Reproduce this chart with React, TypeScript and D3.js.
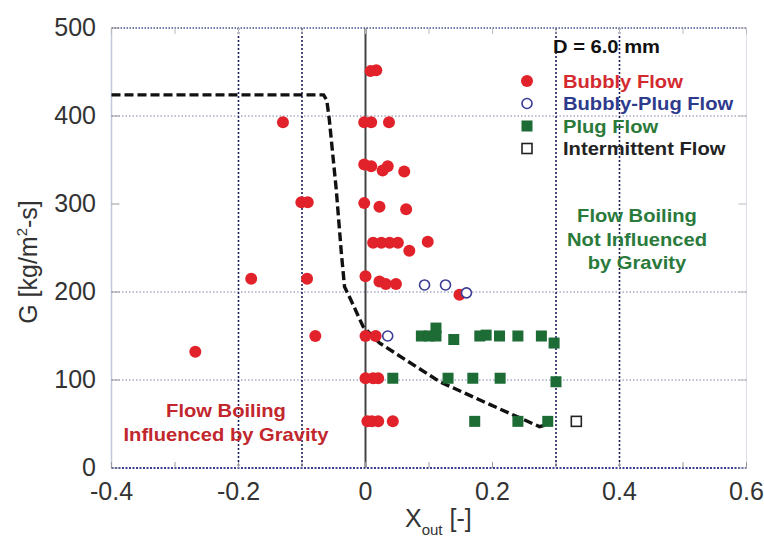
import React from 'react';
import * as d3 from 'd3';

const W = 764;
const H = 537;

// Axis ticks
const xTickLabels = [-0.4, -0.2, 0, 0.2, 0.4, 0.6];
const xMinorTicks = [-0.3, -0.1, 0.1, 0.3, 0.5];
const yTickLabels = [0, 100, 200, 300, 400, 500];
const xGridLines = [-0.2, -0.1, 0.3, 0.4];
const yGridLines = [100, 200, 400];

// Observed flow patterns: [X_out, G]
const bubbly: [number, number][] = [
  [0.008, 451], [0.017, 452],
  [-0.13, 393], [-0.002, 393], [0.009, 393], [0.037, 393],
  [-0.002, 345], [0.009, 343], [0.027, 338], [0.035, 343], [0.061, 337],
  [-0.101, 302], [-0.091, 302], [-0.002, 301], [0.022, 297], [0.064, 294],
  [0.012, 256], [0.025, 256], [0.038, 256], [0.051, 256], [0.069, 247], [0.098, 257],
  [-0.18, 215], [-0.092, 215], [0.0, 218], [0.022, 212], [0.032, 209], [0.048, 209], [0.148, 197],
  [-0.268, 132], [-0.079, 150], [0.0, 150], [0.016, 150],
  [0.0, 102], [0.012, 102], [0.02, 102],
  [0.003, 53], [0.01, 53], [0.02, 53], [0.043, 53],
];
const bubblyPlug: [number, number][] = [
  [0.035, 150], [0.093, 208], [0.126, 208], [0.159, 199],
];
const plug: [number, number][] = [
  [0.088, 150], [0.1, 150], [0.111, 159], [0.111, 150], [0.139, 146],
  [0.18, 150], [0.19, 151], [0.211, 150], [0.24, 150], [0.277, 150], [0.297, 142],
  [0.043, 102], [0.13, 102], [0.169, 102], [0.212, 102], [0.3, 98],
  [0.172, 53], [0.24, 53], [0.287, 53],
];
const intermittent: [number, number][] = [[0.332, 53]];

// Transition boundary between gravity-influenced and gravity-independent boiling
const boundary: [number, number][] = [
  [-0.4, 424], [-0.066, 424], [-0.061, 418], [-0.057, 396], [-0.046, 316],
  [-0.038, 244], [-0.033, 206], [-0.023, 191], [-0.004, 161], [0.022, 142],
  [0.117, 98], [0.19, 74], [0.274, 47], [0.284, 49],
];

const legendItems = [
  { label: 'Bubbly Flow', color: '#d42a2f', kind: 'filledCircle' },
  { label: 'Bubbly-Plug Flow', color: '#2e3a8c', kind: 'openCircle' },
  { label: 'Plug Flow', color: '#2c7a3a', kind: 'filledSquare' },
  { label: 'Intermittent Flow', color: '#222222', kind: 'openSquare' },
];

const FONT = '"Liberation Sans", Arial, Helvetica, sans-serif';
const RED = '#e2222a';
const BLUE = '#3a3c95';
const GREEN = '#1d6b35';

function Marker({ kind, cx, cy, color }: { kind: string; cx: number; cy: number; color: string }) {
  if (kind === 'filledCircle') return <circle cx={cx} cy={cy} r={6} fill={color} />;
  if (kind === 'openCircle')
    return <circle cx={cx} cy={cy} r={5} fill="white" stroke={color} strokeWidth={1.6} />;
  if (kind === 'filledSquare')
    return <rect x={cx - 5.5} y={cy - 5.5} width={11} height={11} fill={color} />;
  return <rect x={cx - 5} y={cy - 5} width={10} height={10} fill="white" stroke={color} strokeWidth={1.6} />;
}

function BoldText({ x, y, children, fill, size = 18, anchor = 'start' }: any) {
  return (
    <text
      transform={`translate(${x},${y}) scale(1.12,1)`}
      fontFamily={FONT}
      fontWeight="bold"
      fontSize={size}
      fill={fill}
      textAnchor={anchor}
    >
      {children}
    </text>
  );
}

const fmtTick = (v: number) => String(v);

export default function App() {
  const x = d3.scaleLinear().domain([-0.4, 0.6]).range([111.5, 746.5]);
  const y = d3.scaleLinear().domain([0, 500]).range([468, 28]);
  const line = d3
    .line<[number, number]>()
    .x((d) => x(d[0]))
    .y((d) => y(d[1]));

  const [x0, x1] = x.range();
  const [y0, y1] = y.range();

  return (
    <svg
      width={W}
      height={H}
      style={{ position: 'absolute', left: 0, top: 0, background: 'white' }}
    >
      {/* frame */}
      <line x1={x0} x2={x0} y1={y1} y2={y0} stroke="#c3c7dc" strokeWidth={1.5} />
      <line x1={x1} x2={x1} y1={y1} y2={y0} stroke="#dcdfea" strokeWidth={1} />
      <line x1={x0} x2={x1} y1={y1} y2={y1} stroke="#4a4f8f" strokeWidth={1.4} strokeDasharray="1.5,1.5" />
      <line x1={x0} x2={x1} y1={y0} y2={y0} stroke="#3a3f8f" strokeWidth={2} strokeDasharray="2,1.5" />

      {/* grid */}
      {yGridLines.map((g) => (
        <line key={'hg' + g} x1={x0} x2={x1} y1={y(g)} y2={y(g)} stroke="#7d80a8" strokeWidth={1} strokeDasharray="1.5,2" />
      ))}
      {xGridLines.map((v) => (
        <line key={'vg' + v} x1={x(v)} x2={x(v)} y1={y1} y2={y0} stroke="#1d1f5c" strokeWidth={1.6} strokeDasharray="2,2" />
      ))}
      <line x1={x(0)} x2={x(0)} y1={y1} y2={y0} stroke="#444" strokeWidth={2} />

      {/* ticks */}
      {[...xTickLabels, ...xMinorTicks].map((v) => (
        <g key={'xt' + v}>
          <line x1={x(v)} x2={x(v)} y1={y0} y2={y0 - 6} stroke="#999" strokeWidth={1} />
          <line x1={x(v)} x2={x(v)} y1={y1} y2={y1 + 6} stroke="#bbb" strokeWidth={1} />
        </g>
      ))}
      {yTickLabels.map((v) => (
        <g key={'yt' + v}>
          <line x1={x0} x2={x0 + 8} y1={y(v)} y2={y(v)} stroke="#999" strokeWidth={1} />
          <line x1={x1} x2={x1 - 8} y1={y(v)} y2={y(v)} stroke="#bbb" strokeWidth={1} />
        </g>
      ))}

      {/* tick labels */}
      {xTickLabels.map((v) => (
        <text key={'xl' + v} x={x(v)} y={500} textAnchor="middle" fontFamily={FONT} fontSize={25} fill="#333">
          {fmtTick(v)}
        </text>
      ))}
      {yTickLabels.map((v) => (
        <text key={'yl' + v} x={96} y={y(v) + 8} textAnchor="end" fontFamily={FONT} fontSize={25} fill="#333">
          {v}
        </text>
      ))}

      {/* axis titles */}
      <text x={405} y={527} fontFamily={FONT} fontSize={25} fill="#333">
        X<tspan fontSize={15} dy={8}>out</tspan>
        <tspan dy={-8}> [-]</tspan>
      </text>
      <text transform={`translate(37,262) rotate(-90)`} textAnchor="middle" fontFamily={FONT} fontSize={25} fill="#333">
        G [kg/m<tspan fontSize={15} dy={-10}>2</tspan>
        <tspan dy={10}>-s]</tspan>
      </text>

      {/* boundary */}
      <path d={line(boundary) ?? ''} fill="none" stroke="#111" strokeWidth={3.4} strokeDasharray="9,4" />

      {/* data */}
      {bubbly.map((d, i) => (
        <Marker key={'b' + i} kind="filledCircle" cx={x(d[0])} cy={y(d[1])} color={RED} />
      ))}
      {bubblyPlug.map((d, i) => (
        <Marker key={'bp' + i} kind="openCircle" cx={x(d[0])} cy={y(d[1])} color={BLUE} />
      ))}
      {plug.map((d, i) => (
        <Marker key={'p' + i} kind="filledSquare" cx={x(d[0])} cy={y(d[1])} color={GREEN} />
      ))}
      {intermittent.map((d, i) => (
        <Marker key={'im' + i} kind="openSquare" cx={x(d[0])} cy={y(d[1])} color="#222" />
      ))}

      {/* legend */}
      <BoldText x={553} y={53} fill="#111" size={18}>D = 6.0 mm</BoldText>
      {legendItems.map((it, i) => {
        const cy = 81 + i * 22.5;
        const mColor = it.kind === 'filledCircle' ? RED : it.kind === 'openCircle' ? BLUE : it.kind === 'filledSquare' ? GREEN : '#222';
        return (
          <g key={it.label}>
            <Marker kind={it.kind} cx={527} cy={cy} color={mColor} />
            <BoldText x={563} y={cy + 6.5} fill={it.color} size={18}>{it.label}</BoldText>
          </g>
        );
      })}

      {/* region annotations */}
      <BoldText x={637} y={222} fill="#2a7a3c" anchor="middle">Flow Boiling</BoldText>
      <BoldText x={637} y={246} fill="#2a7a3c" anchor="middle">Not Influenced</BoldText>
      <BoldText x={637} y={269} fill="#2a7a3c" anchor="middle">by Gravity</BoldText>
      <BoldText x={226} y={417} fill="#c1272d" anchor="middle">Flow Boiling</BoldText>
      <BoldText x={226} y={441} fill="#c1272d" anchor="middle">Influenced by Gravity</BoldText>
    </svg>
  );
}
